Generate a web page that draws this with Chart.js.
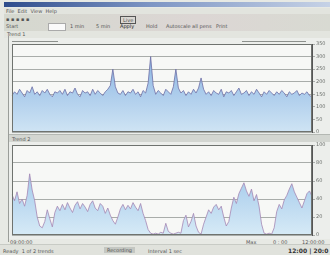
<!DOCTYPE html>
<html>
<head>
<meta charset="utf-8">
<script src="https://cdn.jsdelivr.net/npm/chart.js@4.4.1/dist/chart.umd.min.js"></script>
<style>
    body { margin: 0; width: 330px; height: 255px; overflow: hidden; background: #e7e9e4; font-family: "DejaVu Sans", sans-serif; position: relative; }
    .abs { position: absolute; }
    .tiny { font-size: 5px; color: #555; white-space: nowrap; line-height: 6px; }
    #titlebar { left: 4px; top: 2px; width: 326px; height: 5px; background: linear-gradient(90deg, #2f4d8c, #7d95c4 45%, #c6d2e6); }
    #menubar { left: 4px; top: 8px; width: 326px; height: 6px; background: #e2e4de; }
    #toolbar { left: 4px; top: 14px; width: 326px; height: 17px; background: linear-gradient(90deg, #d5d8cf, #dcd6d4 60%, #d8dad2); }
    #tagrow { left: 4px; top: 31px; width: 326px; height: 7px; background: #e3e5df; }
    #panel1 { left: 9px; top: 38px; width: 321px; height: 97px; background: #eceeeb; }
    #sep { left: 9px; top: 134px; width: 321px; height: 8px; background: #d3d6d1; border-top: 1px solid #b4b8b3; }
    #panel2 { left: 9px; top: 142px; width: 321px; height: 97px; background: #eceeeb; }
    #statusbar { left: 0; top: 244px; width: 330px; height: 11px; background: #e0e2dc; border-top: 1px solid #c8cbc5; }
    canvas { position: absolute; }
</style>
</head>
<body>
<div class="abs" id="titlebar"></div>
<div class="abs" id="menubar"><span class="abs tiny" style="left:2px;top:0">File&nbsp; Edit&nbsp; View&nbsp; Help</span></div>
<div class="abs" id="toolbar">
    <span class="abs tiny" style="left:2px;top:2px">▪ ▪ ▪ ▪ ▪</span>
    <span class="abs tiny" style="left:2px;top:9px">Start</span>
    <span class="abs" style="left:44px;top:9px;width:16px;height:6px;background:#fafafa;border:1px solid #aaa"></span>
    <span class="abs tiny" style="left:66px;top:9px">1 min</span>
    <span class="abs tiny" style="left:92px;top:9px">5 min</span>
    <span class="abs tiny" style="left:116px;top:2px;border:1px solid #555;padding:0 2px">Live</span>
    <span class="abs tiny" style="left:116px;top:9px;color:#222">Apply</span>
    <span class="abs tiny" style="left:142px;top:9px">Hold</span>
    <span class="abs tiny" style="left:162px;top:9px">Autoscale all pens</span>
    <span class="abs tiny" style="left:212px;top:9px">Print</span>
</div>
<div class="abs" id="tagrow"><span class="abs tiny" style="left:3px;top:0">Trend 1</span></div>
<div class="abs" id="panel1"></div>
<div class="abs" id="sep"><span class="abs tiny" style="left:3px;top:1px">Trend 2</span></div>
<div class="abs" id="panel2"></div>
<div class="abs" style="left:8px;top:36px;width:1px;height:206px;background:#9a9d99"></div>
<div class="abs" style="left:12px;top:41px;width:46px;height:1px;background:#8c908c"></div>
<div class="abs" style="left:242px;top:41px;width:64px;height:1px;background:#8c908c"></div>
<canvas id="chartTop" width="330" height="96" style="left:0;top:40px"></canvas>
<canvas id="chartBottom" width="330" height="98" style="left:0;top:141px"></canvas>
<span class="abs tiny" style="left:10px;top:239px">09:00:00</span>
<span class="abs tiny" style="left:246px;top:239px">Max</span>
<span class="abs tiny" style="left:273px;top:239px">0 : 00</span>
<span class="abs tiny" style="left:302px;top:239px">12:00:00</span>
<div class="abs" id="statusbar">
    <span class="abs tiny" style="left:3px;top:3px">Ready &nbsp;1 of 2 trends</span>
    <span class="abs tiny" style="left:104px;top:2px;background:#c4c7c2;padding:0 3px">Recording</span>
    <span class="abs tiny" style="left:148px;top:3px">Interval 1 sec</span>
    <span class="abs" style="left:288px;top:2px;font-size:6px;font-weight:bold;color:#333;white-space:nowrap">12:00 | 20:0</span>
</div>
<script>
//============================================= Data =============================================//
const topValues = [
    2.9, 3.2, 3.0, 3.4, 3.1, 2.8, 3.3, 3.1, 3.6, 3.0, 3.2, 2.9, 3.3, 3.1, 3.4, 3.0, 2.8, 3.2, 3.1, 3.3,
    3.0, 3.4, 2.9, 3.2, 3.1, 3.5, 3.0, 2.8, 3.3, 3.1, 3.2, 2.9, 3.4, 3.0, 3.3, 3.1, 2.9, 3.2, 3.4, 3.7,
    5.0, 3.6, 3.1, 3.0, 3.3, 2.9, 3.2, 3.1, 3.4, 3.0, 3.2, 2.8, 3.3, 3.1, 3.9, 6.0, 3.7, 3.0, 3.3, 3.1,
    2.9, 3.4, 3.2, 3.0, 3.6, 5.0, 3.5, 3.1, 3.3, 2.9, 3.2, 3.0, 3.4, 3.1, 3.5, 4.3, 3.4, 3.0, 3.2, 2.9,
    3.3, 3.1, 3.0, 3.4, 2.8, 3.2, 3.1, 3.3, 2.9, 3.2, 3.5, 3.0, 3.1, 3.3, 2.9, 3.2, 3.0, 3.4, 3.1, 2.8,
    3.2, 3.0, 3.3, 3.1, 2.9, 3.2, 3.0, 3.3, 3.1, 2.8, 3.2, 3.0, 3.1, 3.3, 2.9, 3.1, 3.0, 3.2, 2.9, 2.8
];

const bottomValues = [
    4.5, 3.8, 4.8, 3.5, 4.0, 3.2, 4.4, 6.8, 5.0, 3.8, 2.0, 1.0, 0.8, 1.5, 2.8, 1.8, 0.9, 2.5, 3.2, 2.7,
    3.4, 2.8, 3.6, 3.0, 2.5, 3.3, 3.7, 2.9, 3.5, 3.1, 2.6, 3.4, 3.8, 3.0, 2.7, 3.5, 3.2, 2.4, 3.0, 2.2,
    1.6, 1.2, 2.0, 2.9, 3.4, 2.8, 3.3, 2.9, 3.6, 3.1, 2.7, 3.5, 2.4, 1.6, 0.6, 0.2, 0.1, 0.2, 0.1, 0.3,
    0.2, 1.3, 0.4, 0.2, 0.1, 0.2, 0.3, 0.2, 1.6, 2.2, 0.9, 1.5, 2.4, 1.0, 0.3, 0.1, 1.2, 2.0, 2.8, 2.4,
    3.1, 3.4, 2.8, 3.2, 2.0, 1.0, 1.5, 3.0, 4.2, 3.5, 4.6, 5.2, 5.8, 4.9, 4.3, 5.1, 3.8, 4.5, 3.2, 1.2,
    0.2, 0.1, 0.2, 0.1, 0.8, 2.6, 3.4, 2.9, 3.9, 4.4, 5.1, 5.7, 4.8, 4.2, 3.6, 3.0, 3.8, 4.6, 4.9, 4.3
];

const topTickLabels = ['0', '50', '100', '150', '200', '250', '300', '350'];
const bottomTickLabels = ['0', '10', '20', '30', '40', '50', '60', '70', '80', '90', '100'];

//============================================= Helpers =============================================//
const frame = {
    id: 'frame',
    afterDraw(chart) {
        const { ctx, chartArea: a } = chart;
        ctx.save();
        ctx.strokeStyle = '#6f736f';
        ctx.lineWidth = 1;
        ctx.strokeRect(a.left + 0.5, a.top + 0.5, a.right - a.left - 1, a.bottom - a.top - 1);
        ctx.restore();
    }
};

const plotBg = {
    id: 'plotBg',
    beforeDraw(chart) {
        const { ctx, chartArea: a } = chart;
        ctx.save();
        ctx.fillStyle = '#f7f8f6';
        ctx.fillRect(a.left, a.top, a.right - a.left, a.bottom - a.top);
        ctx.restore();
    }
};

function gradient(top, bottom) {
    return (context) => {
        const { ctx, chartArea } = context.chart;
        if (!chartArea) return top;
        const g = ctx.createLinearGradient(0, chartArea.top, 0, chartArea.bottom);
        g.addColorStop(0, top);
        g.addColorStop(1, bottom);
        return g;
    };
}

function makeConfig(values, tickLabels, fillTop, fillBottom, lineColor) {
    return {
        type: 'line',
        data: {
            labels: values.map((v, i) => i),
            datasets: [{
                data: values,
                fill: 'origin',
                backgroundColor: gradient(fillTop, fillBottom),
                borderColor: lineColor,
                borderWidth: 0.8,
                pointRadius: 0,
                tension: 0
            }]
        },
        options: {
            responsive: false,
            animation: false,
            layout: { padding: { left: 12, right: 0, top: 2, bottom: 2 } },
            plugins: { legend: { display: false }, tooltip: { enabled: false } },
            scales: {
                x: { display: false, offset: false },
                y: {
                    position: 'right',
                    min: 0,
                    max: tickLabels.length - 1,
                    afterFit: (s) => { s.width = 18; },
                    ticks: {
                        stepSize: 1,
                        padding: 1,
                        color: '#6c706c',
                        font: { size: 5, family: 'DejaVu Sans' },
                        callback: (v) => tickLabels[v]
                    },
                    grid: { color: '#a9adaa', tickLength: 3, lineWidth: 1 },
                    border: { color: '#555' }
                }
            }
        },
        plugins: [plotBg, frame]
    };
}

//============================================= Charts =============================================//
new Chart(document.getElementById('chartTop'),
    makeConfig(topValues, topTickLabels, '#7fade0', '#cfe4f4', '#6d6fa6'));

new Chart(document.getElementById('chartBottom'),
    makeConfig(bottomValues, bottomTickLabels, '#8dbbe6', '#d6eaf6', '#a487b4'));
</script>
</body>
</html>
